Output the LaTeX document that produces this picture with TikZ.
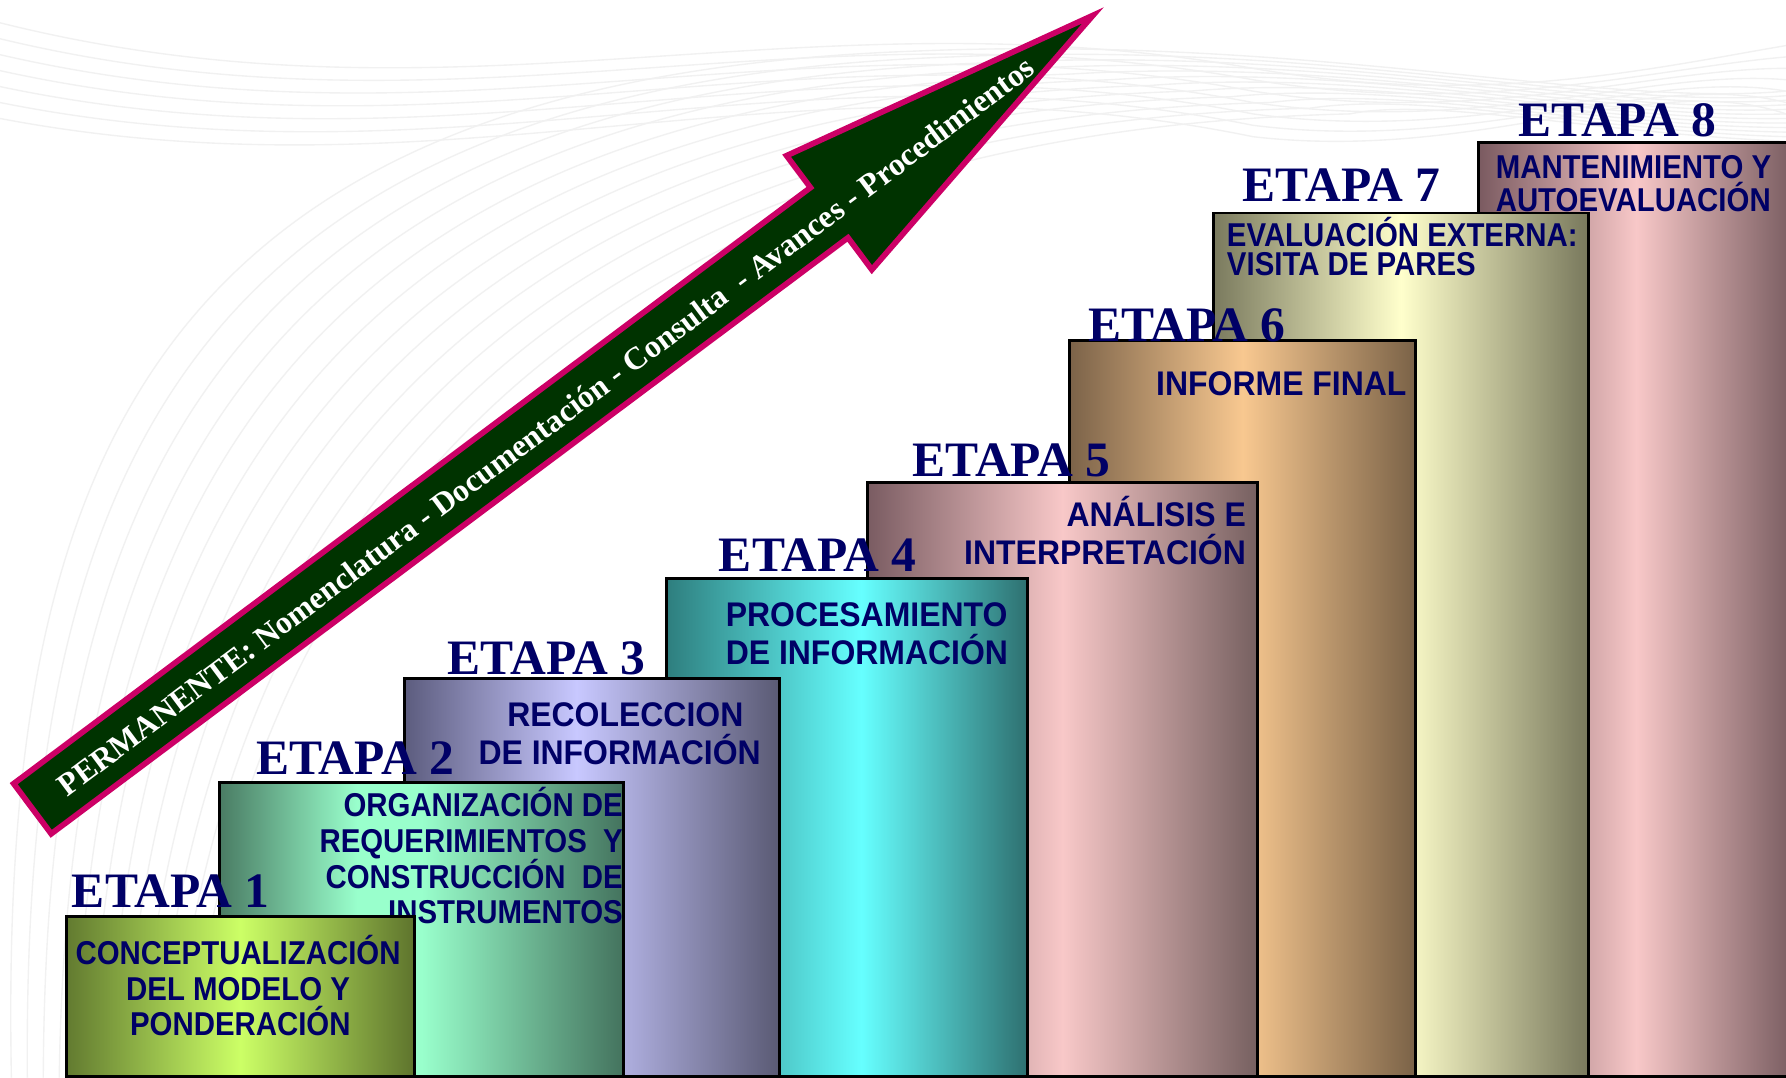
\documentclass[tikz,border=0pt]{standalone}
\usepackage{fontspec}
\setmainfont{Liberation Serif}
\newfontfamily\bodyfont[FakeStretch=0.89]{Liberation Sans}
\newfontfamily\bodyfontw[FakeStretch=0.935]{Liberation Sans}
\usetikzlibrary{calc}
\definecolor{navy}{HTML}{000066}
\definecolor{arrowgreen}{HTML}{003300}
\definecolor{arrowpink}{HTML}{CC0066}
\definecolor{bgline}{HTML}{F1F1F1}
% box colours
\definecolor{a0}{HTML}{627A30}\definecolor{a1}{HTML}{CCFF66}\definecolor{a2}{HTML}{5E742D}
\definecolor{b0}{HTML}{4A7C64}\definecolor{b1}{HTML}{99FFCC}\definecolor{b2}{HTML}{44735E}
\definecolor{c0}{HTML}{5C5C7E}\definecolor{c1}{HTML}{C8C8FF}\definecolor{c2}{HTML}{5A5A74}
\definecolor{d0}{HTML}{2E7E7E}\definecolor{d1}{HTML}{66FFFF}\definecolor{d2}{HTML}{2E7070}
\definecolor{e0}{HTML}{7A5C62}\definecolor{e1}{HTML}{F8C8C8}\definecolor{e2}{HTML}{766060}
\definecolor{f0}{HTML}{7C6349}\definecolor{f1}{HTML}{F8C890}\definecolor{f2}{HTML}{7A6247}
\definecolor{g0}{HTML}{7A7A5E}\definecolor{g1}{HTML}{FFFFCC}\definecolor{g2}{HTML}{78785C}
\definecolor{h0}{HTML}{7A5A60}\definecolor{h1}{HTML}{F8C8C8}\definecolor{h2}{HTML}{785C60}
\pgfdeclarehorizontalshading{shA}{100bp}{color(0bp)=(a0); color(25bp)=(a0); color(50bp)=(a1); color(75bp)=(a2); color(100bp)=(a2)}
\pgfdeclarehorizontalshading{shB}{100bp}{color(0bp)=(b0); color(25bp)=(b0); color(42bp)=(b1); color(50bp)=(b1); color(75bp)=(b2); color(100bp)=(b2)}
\pgfdeclarehorizontalshading{shC}{100bp}{color(0bp)=(c0); color(25bp)=(c0); color(48bp)=(c1); color(75bp)=(c2); color(100bp)=(c2)}
\pgfdeclarehorizontalshading{shD}{100bp}{color(0bp)=(d0); color(25bp)=(d0); color(52bp)=(d1); color(75bp)=(d2); color(100bp)=(d2)}
\pgfdeclarehorizontalshading{shE}{100bp}{color(0bp)=(e0); color(25bp)=(e0); color(50bp)=(e1); color(75bp)=(e2); color(100bp)=(e2)}
\pgfdeclarehorizontalshading{shF}{100bp}{color(0bp)=(f0); color(25bp)=(f0); color(50bp)=(f1); color(75bp)=(f2); color(100bp)=(f2)}
\pgfdeclarehorizontalshading{shG}{100bp}{color(0bp)=(g0); color(25bp)=(g0); color(50bp)=(g1); color(75bp)=(g2); color(100bp)=(g2)}
\pgfdeclarehorizontalshading{shH}{100bp}{color(0bp)=(h0); color(25bp)=(h0); color(50bp)=(h1); color(75bp)=(h2); color(100bp)=(h2)}
\tikzset{
  stepbox/.style={draw=black, line width=2.6pt, anchor=north west, inner sep=0pt, outer sep=0pt},
  etapa/.style={anchor=base west, inner sep=0pt, text=navy, font=\fontsize{43.5}{44}\selectfont\bfseries},
  body/.style={inner sep=0pt, text=navy, font=\bodyfont\fontsize{29}{30}\selectfont\bfseries},
  bodyw/.style={inner sep=0pt, text=navy, font=\bodyfontw\fontsize{30}{31}\selectfont\bfseries},
  bgcurve/.style={draw=bgline, line width=1.2pt},
  arrowshape/.style={draw=arrowpink, fill=arrowgreen, line width=5pt, line join=miter},
  arrowtext/.style={text=white, inner sep=0pt, font=\fontsize{28}{30}\selectfont\bfseries}
}
\begin{document}
\begin{tikzpicture}[x=1pt,y=-1pt]
\useasboundingbox (0,0) rectangle (1568,946);
\clip (0,0) rectangle (1568,946);
\fill[white] (0,0) rectangle (1568,946);
% faint background curves
\foreach \i in {0,...,11}{
  \draw[bgcurve] (10+14*\i, 946) .. controls (0+20*\i, 420) and (120+40*\i, 70+4*\i) .. (800+35*\i, 45+5*\i)
     .. controls (1150+10*\i, 30+5*\i) and (1400, 95+2*\i) .. (1568, 80+4*\i);
}
\foreach \i in {0,...,6}{
  \draw[bgcurve] (0, 20+14*\i) .. controls (400, 120+10*\i) and (700, -10+8*\i) .. (1100, 60+10*\i)
     .. controls (1300, 95+8*\i) and (1450, 60) .. (1568, 40+10*\i);
}
% arrow
\begin{scope}[shift={(28.5,710)}, rotate=36.8]
  \draw[arrowshape] (0,-27.5) -- (873.6,-27.5) -- (873.6,-62.5) -- (1162.8,0) -- (873.6,62.5) -- (873.6,27.5) -- (0,27.5) -- cycle;
  \node[arrowtext, transform shape] (perm) at (562,1) {PERMANENTE: Nomenclatura - Documentación - Consulta~ - Avances - Procedimientos};
\end{scope}
% stage 8
\node[stepbox, shading=shH, minimum width=277pt, minimum height=820pt] (b8) at (1298,125) {};
\node[etapa] (e8) at (1333,120) {ETAPA 8};
\node[body, anchor=base west] (t8a) at (1313,157) {MANTENIMIENTO Y};
\node[body, anchor=base west] (t8b) at (1313,186) {AUTOEVALUACIÓN};
% stage 7
\node[stepbox, shading=shG, minimum width=330pt, minimum height=758pt] (b7) at (1065,187) {};
\node[etapa] (e7) at (1091,177) {ETAPA 7};
\node[body, anchor=base west] (t7a) at (1077,216) {EVALUACIÓN EXTERNA:};
\node[body, anchor=base west] (t7b) at (1077,242) {VISITA DE PARES};
% stage 6
\node[stepbox, shading=shF, minimum width=304pt, minimum height=646pt] (b6) at (939,299) {};
\node[etapa] (e6) at (955,300) {ETAPA 6};
\node[bodyw, anchor=base east] (t6a) at (1235,347) {INFORME FINAL};
% stage 5
\node[stepbox, shading=shE, minimum width=342pt, minimum height=521pt] (b5) at (762,424) {};
\node[etapa] (e5) at (801,418) {ETAPA 5};
\node[bodyw, anchor=base east] (t5a) at (1094,462) {ANÁLISIS E};
\node[bodyw, anchor=base east] (t5b) at (1094,496) {INTERPRETACIÓN};
% stage 4
\node[stepbox, shading=shD, minimum width=317pt, minimum height=437pt] (b4) at (585,508) {};
\node[etapa] (e4) at (631,502) {ETAPA 4};
\node[bodyw, anchor=base west] (t4a) at (637,550) {PROCESAMIENTO};
\node[bodyw, anchor=base west] (t4b) at (637,583) {DE INFORMACIÓN};
% stage 3
\node[stepbox, shading=shC, minimum width=329pt, minimum height=349pt] (b3) at (355,596) {};
\node[etapa] (e3) at (393,592) {ETAPA 3};
\node[bodyw, anchor=base] (t3a) at (549,638) {RECOLECCION};
\node[bodyw, anchor=base] (t3b) at (544,671) {DE INFORMACIÓN};
% stage 2
\node[stepbox, shading=shB, minimum width=354pt, minimum height=258pt] (b2) at (193,687) {};
\node[etapa] (e2) at (225,680) {ETAPA 2};
\node[body, anchor=base east] (t2a) at (547,717) {ORGANIZACIÓN DE};
\node[body, anchor=base east] (t2b) at (547,748) {REQUERIMIENTOS~ Y};
\node[body, anchor=base east] (t2c) at (547,780) {CONSTRUCCIÓN~ DE};
\node[body, anchor=base east] (t2d) at (547,811) {INSTRUMENTOS};
% stage 1
\node[stepbox, shading=shA, minimum width=306pt, minimum height=140pt] (b1) at (58,805) {};
\node[etapa] (e1) at (63,797) {ETAPA 1};
\node[body, anchor=base] (t1a) at (209,847) {CONCEPTUALIZACIÓN};
\node[body, anchor=base] (t1b) at (209,878) {DEL MODELO Y};
\node[body, anchor=base] (t1c) at (211,909) {PONDERACIÓN};
\end{tikzpicture}
\end{document}
